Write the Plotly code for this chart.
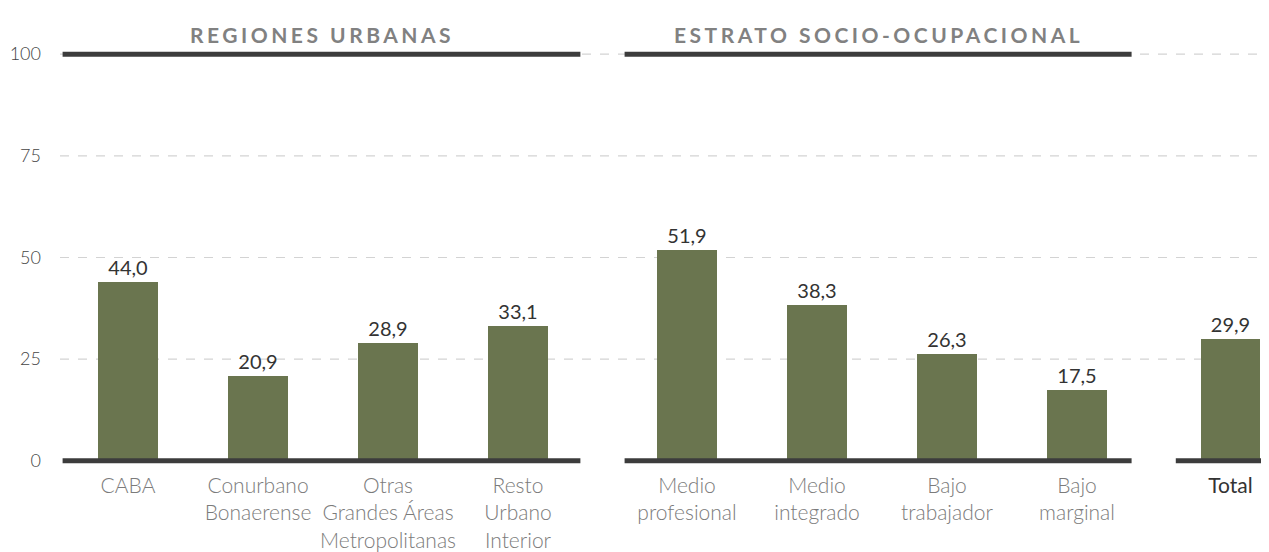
import plotly.graph_objects as go

# ---- data ----
categories = ["CABA", "Conurbano<br>Bonaerense", "Otras<br>Grandes Áreas<br>Metropolitanas",
              "Resto<br>Urbano<br>Interior",
              "Medio<br>profesional", "Medio<br>integrado", "Bajo<br>trabajador", "Bajo<br>marginal",
              "Total"]
values = [44.0, 20.9, 28.9, 33.1, 51.9, 38.3, 26.3, 17.5, 29.9]
group_sizes = [4, 4, 1]
group_titles = ["REGIONES URBANAS", "ESTRATO SOCIO-OCUPACIONAL", None]
y_ticks = [0, 25, 50, 75, 100]

# ---- layout helpers (positions) ----
group_gaps = [0.3, 0.18]
positions = []
cur = 0.0
for gi, n in enumerate(group_sizes):
    for k in range(n):
        positions.append(cur)
        cur += 1
    if gi < len(group_gaps):
        cur += group_gaps[gi]

X_MIN, X_MAX = -0.523, 8.777
BAR = "#6a754f"
DARK = "#3c3c3c"
FONT = "Lato"

tick_text = []
for c in categories:
    if c == "Total":
        tick_text.append("<span style='color:#333333;font-weight:400'>Total</span>")
    else:
        tick_text.append(c)

fig = go.Figure()
fig.add_trace(go.Bar(
    x=positions, y=values, width=0.455,
    marker=dict(color=BAR, line=dict(width=0)),
    texttemplate="%{y:.1f}", textposition="outside",
    textfont=dict(family=FONT, size=20, color="#333333"),
    cliponaxis=False, hoverinfo="skip",
))

# gridlines (dashed) for ticks above zero
for t in y_ticks[1:]:
    fig.add_shape(type="line", xref="paper", yref="y", x0=0, x1=1, y0=t, y1=t,
                  line=dict(color="#d3d3d3", width=1.2, dash="dash"), layer="below")

# group spans
idx = 0
spans = []
for gi, n in enumerate(group_sizes):
    spans.append([positions[idx], positions[idx + n - 1]])
    idx += n
half = 0.17
edges = []
for gi, (first, last) in enumerate(spans):
    left = X_MIN + 0.02 if gi == 0 else (spans[gi - 1][1] + first) / 2 + half
    right = X_MAX if gi == len(spans) - 1 else (last + spans[gi + 1][0]) / 2 - half
    edges.append((left, right))

for gi, (l, r) in enumerate(edges):
    fig.add_shape(type="line", xref="x", yref="y", x0=l, x1=r, y0=y_ticks[0], y1=y_ticks[0],
                  line=dict(color=DARK, width=5), layer="above")
    if group_titles[gi]:
        fig.add_shape(type="line", xref="x", yref="y", x0=l, x1=r, y0=y_ticks[-1], y1=y_ticks[-1],
                      line=dict(color=DARK, width=5), layer="above")
        fig.add_annotation(x=(l + r) / 2, xref="x", y=1.0, yref="paper", yshift=12,
                           text="<b><span style='letter-spacing:3.5px'>" + group_titles[gi] + "</span></b>",
                           showarrow=False, yanchor="middle", xanchor="center",
                           font=dict(family=FONT, size=21, color="#818181"))

# the page body has an 8px margin, so the figure is sized to end at the window edge
fig.update_layout(
    width=1261, height=544,
    margin=dict(l=52, r=0, t=38, b=83),
    plot_bgcolor="white", paper_bgcolor="white",
    separators=",.",
    showlegend=False,
    bargap=0,
    xaxis=dict(range=[X_MIN, X_MAX], tickvals=positions, ticktext=tick_text,
               showgrid=False, zeroline=False, showline=False, ticks="", automargin=False,
               tickfont=dict(family=FONT, size=21, color="#7b7b7b", weight=300),
               ticklabelstandoff=2),
    yaxis=dict(range=[-2, 102], tickvals=y_ticks, showgrid=False, zeroline=False,
               showline=False, ticks="", automargin=False,
               tickfont=dict(family=FONT, size=18, color="#444444", weight=300),
               ticklabelstandoff=18),
)

fig.write_html("out.html")
